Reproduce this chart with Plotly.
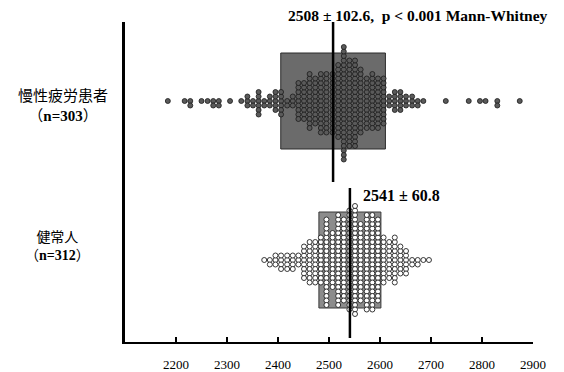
import plotly.graph_objects as go

# ---------------- data ----------------
group_names = ["慢性疲労患者", "健常人"]
group_n = [303, 312]
means = [2508, 2541]
sds = [102.6, 60.8]
p_text = "p < 0.001 Mann-Whitney"

# dot-plot columns: value of each column and number of dots stacked in it
g1_values = [2184, 2217, 2228, 2250, 2262, 2273, 2284, 2306, 2328, 2340, 2351, 2362,
             2373, 2384, 2395, 2406, 2418, 2429,
             2440, 2451, 2462, 2473, 2484, 2495, 2507, 2518, 2529, 2540, 2551, 2562,
             2574, 2585, 2596, 2607,
             2618, 2629, 2640, 2651, 2663, 2674,
             2685, 2729, 2774, 2796, 2807, 2830, 2874]
g1_counts = [1, 1, 2, 1, 1, 2, 2, 1, 1, 3, 2, 6,
             2, 3, 5, 6, 2, 3,
             9, 9, 13, 11, 14, 14, 14, 17, 26, 20, 20, 15,
             12, 13, 12, 11,
             3, 5, 5, 3, 3, 2,
             1, 1, 1, 1, 1, 2, 1]

g2_values = [2373, 2384, 2395, 2406, 2418, 2429, 2440, 2451, 2462, 2473, 2484, 2495,
             2507, 2518, 2529, 2540, 2551, 2562, 2574, 2585, 2596, 2607, 2618, 2629,
             2640, 2651, 2663, 2674, 2685, 2696]
g2_counts = [1, 2, 3, 4, 4, 4, 3, 8, 10, 10, 11, 20,
             13, 21, 19, 23, 25, 18, 22, 22, 19, 11, 9, 11,
             7, 6, 2, 2, 1, 1]

x_ticks = [2200, 2300, 2400, 2500, 2600, 2700, 2800, 2900]

# ---------------- layout constants ----------------
W, H = 564, 372
ML, MR, MT, MB = 125, 31, 22, 30
PLOT_H = H - MT - MB          # y axis in plot pixels (0 = bottom)
centers = [241, 82]           # vertical centre of each group
box_half = 48
line_spans = [(160, PLOT_H), (4, 154)]
DOT_STEP = 4.5

serif = "Liberation Serif, Times New Roman, serif"
cjk = "Noto Sans CJK JP, Noto Sans CJK SC, sans-serif"


def stack(values, counts, yc):
    xs, ys = [], []
    for v, c in zip(values, counts):
        for j in range(c):
            k = (j + 1) // 2
            off = -k if j % 2 == 1 else k
            xs.append(v)
            ys.append(yc + off * DOT_STEP)
    return xs, ys


fig = go.Figure()

# boxes (mean ± SD)
box_fill = ["#6b6b6b", "#8c8c8c"]
box_line = ["#2b2b2b", "#3a3a3a"]
for i in range(2):
    fig.add_shape(type="rect", xref="x", yref="y",
                  x0=means[i] - sds[i], x1=means[i] + sds[i],
                  y0=centers[i] - box_half, y1=centers[i] + box_half,
                  fillcolor=box_fill[i], line=dict(color=box_line[i], width=1),
                  layer="below")

# dots
x1, y1 = stack(g1_values, g1_counts, centers[0])
x2, y2 = stack(g2_values, g2_counts, centers[1])
fig.add_trace(go.Scatter(x=x1, y=y1, mode="markers", hoverinfo="skip",
                         marker=dict(size=5, color="#5a5a5a",
                                     line=dict(color="#1a1a1a", width=0.8))))
fig.add_trace(go.Scatter(x=x2, y=y2, mode="markers", hoverinfo="skip",
                         marker=dict(size=5, color="white",
                                     line=dict(color="#222222", width=0.9))))

# mean lines
for i in range(2):
    fig.add_trace(go.Scatter(x=[means[i], means[i]], y=list(line_spans[i]),
                             mode="lines", hoverinfo="skip",
                             line=dict(color="black", width=2.5)))

annotations = [
    dict(x=2418, y=(PLOT_H + 6) / PLOT_H, xref="x", yref="paper",
         text=f"<b>{means[0]} ± {sds[0]},  {p_text}</b>",
         xanchor="left", yanchor="middle", showarrow=False, borderpad=0,
         font=dict(family=serif, size=15.5, color="black")),
    dict(x=2565, y=147, xref="x", yref="y",
         text=f"<b>{means[1]} ± {sds[1]}</b>",
         xanchor="left", yanchor="middle", showarrow=False, borderpad=0,
         font=dict(family=serif, size=16, color="black")),
]

label_pos = [(63, 104), (57, 245)]
label_size = [15, 14]
for i in range(2):
    lx, ly = label_pos[i]
    txt = (f"{group_names[i]}<br>（"
           f"<span style=\"font-family:'Liberation Serif'\"><b>n={group_n[i]}</b></span>）")
    annotations.append(dict(x=(lx - ML) / (W - ML - MR), y=(H - MB - ly) / PLOT_H,
                            xref="paper", yref="paper", text=txt, align="center",
                            showarrow=False, xanchor="center", yanchor="middle",
                            font=dict(family=cjk, size=label_size[i], color="black")))

fig.update_layout(
    width=W, height=H,
    margin=dict(l=ML, r=MR, t=MT, b=MB, pad=0, autoexpand=False),
    paper_bgcolor="white", plot_bgcolor="white",
    showlegend=False,
    annotations=annotations,
    xaxis=dict(range=[2100, 2900], tickvals=x_ticks,
               ticktext=[str(t) for t in x_ticks],
               automargin=False,
               showgrid=False, zeroline=False,
               showline=True, linecolor="black", linewidth=2,
               ticks="inside", ticklen=5, tickwidth=1.5, tickcolor="black",
               ticklabelstandoff=9,
               tickfont=dict(family=serif, size=13, color="black")),
    yaxis=dict(range=[0, PLOT_H], showgrid=False, zeroline=False,
               automargin=False,
               showline=True, linecolor="black", linewidth=2.5,
               showticklabels=False, ticks=""),
)

fig.write_html("out.html")
